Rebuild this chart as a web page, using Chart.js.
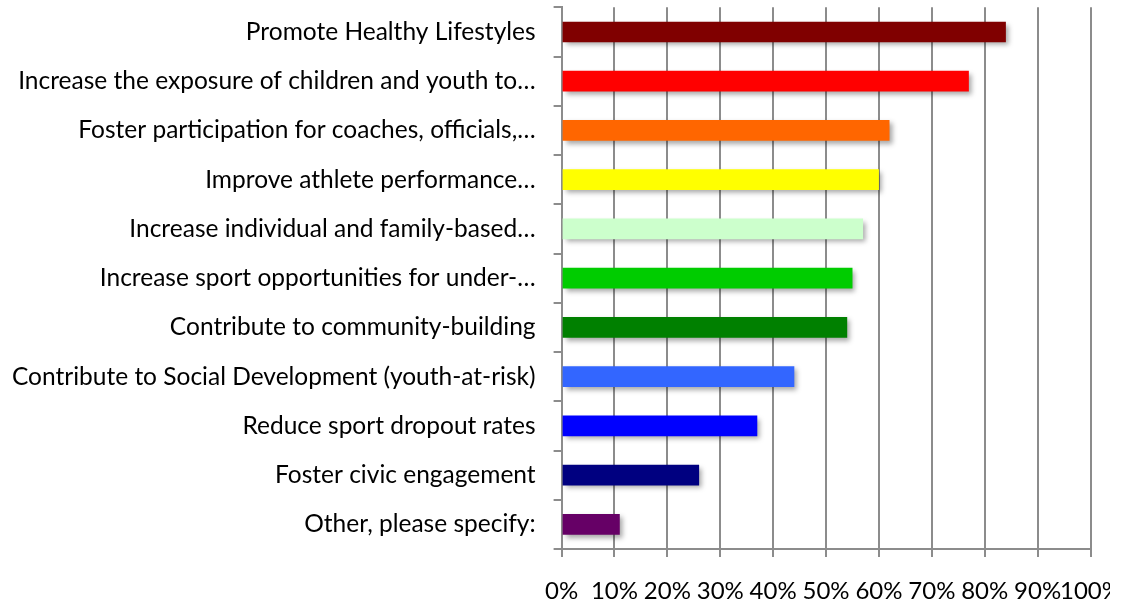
<!DOCTYPE html>
<html>
<head>
<meta charset="utf-8">
<script src="https://cdn.jsdelivr.net/npm/chart.js@4"></script>
<style>
  html, body { margin: 0; padding: 0; background: #fff; overflow: hidden; }
  #wrap { width: 1110px; height: 600px; overflow: hidden; }
</style>
</head>
<body>
<div id="wrap">
  <canvas id="grafica" width="1143" height="600"></canvas>
</div>
<script>
const categories = [
  'Promote Healthy Lifestyles',
  'Increase the exposure of children and youth to…',
  'Foster participation for coaches, officials,…',
  'Improve athlete performance…',
  'Increase individual and family-based…',
  'Increase sport opportunities for under-…',
  'Contribute to community-building',
  'Contribute to Social Development (youth-at-risk)',
  'Reduce sport dropout rates',
  'Foster civic engagement',
  'Other, please specify:'
];
const values = [84, 77, 62, 60, 57, 55, 54, 44, 37, 26, 11];
const barColors = [
  '#800000', '#ff0000', '#ff6600', '#ffff00', '#ccffcc', '#00cc00',
  '#008000', '#3366ff', '#0000ff', '#000080', '#660066'
];

// sombra debajo de las barras
const sombra = {
  id: 'sombra',
  beforeDatasetsDraw(chart) {
    const ctx = chart.ctx;
    ctx.save();
    ctx.shadowColor = 'rgba(0,0,0,0.35)';
    ctx.shadowBlur = 5;
    ctx.shadowOffsetX = 3;
    ctx.shadowOffsetY = 3;
  },
  afterDatasetsDraw(chart) {
    chart.ctx.restore();
  }
};

const gris = '#8c8c8c';

new Chart(document.getElementById('grafica'), {
  type: 'bar',
  data: {
    labels: categories,
    datasets: [{
      data: values,
      backgroundColor: barColors,
      barPercentage: 0.42,
      categoryPercentage: 1
    }]
  },
  options: {
    indexAxis: 'y',
    responsive: false,
    animation: false,
    layout: { padding: { top: 6, right: 0, bottom: -25, left: 12 } },
    scales: {
      x: {
        min: 0,
        max: 100,
        ticks: {
          stepSize: 10,
          padding: 22,
          color: '#000',
          font: { family: 'Lato', size: 24, lineHeight: 1 },
          maxRotation: 0,
          autoSkip: false,
          callback: v => v + '%'
        },
        grid: { color: gris, lineWidth: 2, tickLength: 8 },
        border: { color: gris, width: 2 }
      },
      y: {
        ticks: {
          padding: 0,
          color: '#000',
          font: { family: 'Lato', size: 24.5, lineHeight: 0.6 },
          autoSkip: false
        },
        grid: {
          drawOnChartArea: false, color: gris, lineWidth: 2,
          tickLength: 26, tickBorderDash: [8, 18], tickBorderDashOffset: 8
        },
        border: { color: gris, width: 2 }
      }
    },
    plugins: {
      legend: { display: false },
      tooltip: { enabled: false }
    }
  },
  plugins: [sombra]
});
</script>
</body>
</html>
